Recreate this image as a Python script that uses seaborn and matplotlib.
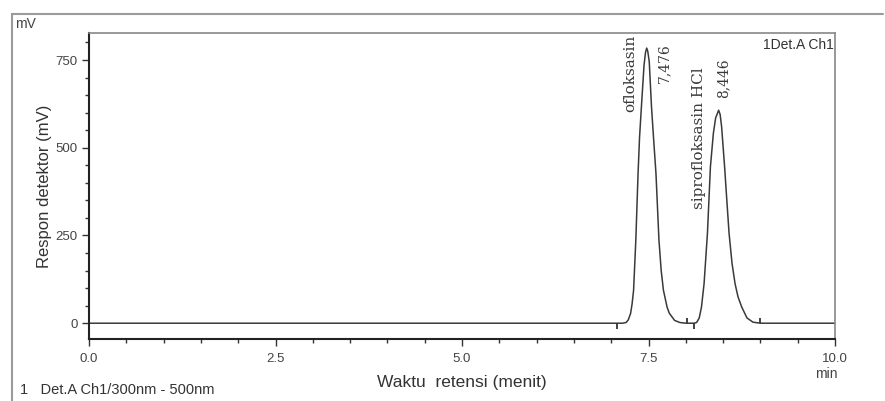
import matplotlib
matplotlib.use('Agg')
import matplotlib.pyplot as plt
import seaborn as sns
import pandas as pd
from matplotlib.ticker import MultipleLocator
from matplotlib.lines import Line2D

sns.set_theme(style='white')
plt.rcParams['font.family'] = ['Liberation Sans', 'DejaVu Sans']

# chromatogram (time in min, response in mV)
waktu = [0.0, 2.0, 4.0, 6.0, 7.00, 7.15, 7.20, 7.23, 7.26, 7.28, 7.30, 7.33, 7.36, 7.38,
         7.405, 7.44, 7.46, 7.476, 7.49, 7.51, 7.54, 7.57, 7.60, 7.64, 7.67, 7.70, 7.75,
         7.78, 7.85, 7.92, 8.00,
         8.11, 8.145, 8.18, 8.21, 8.245, 8.29, 8.33, 8.37, 8.40, 8.44, 8.46, 8.48, 8.52,
         8.55, 8.58, 8.62, 8.66, 8.70, 8.75, 8.82, 8.90, 9.00, 9.50, 10.0]
respon = [0, 0, 0, 0, 0, 0, 2, 10, 28, 55, 94, 237, 427, 530,
          617, 735, 772, 784, 775, 745, 617, 520, 427, 237, 150, 94, 45,
          28, 8, 2, 0,
          0, 2, 15, 46, 113, 256, 446, 542, 585, 607, 595, 560, 446,
          350, 256, 170, 113, 75, 46, 15, 3, 0, 0, 0]

# integration start/stop marks
event_waktu = [7.08, 8.01, 8.11, 9.00]
event_arah = [-1, 1, -1, 1]

puncak_nama = ['ofloksasin', 'siprofloksasin HCl']
puncak_rt = ['7,476', '8,446']
nama_pos = [(7.25, 821), (8.18, 730)]
rt_pos = [(7.71, 798), (8.50, 756)]

df = pd.DataFrame({'waktu': waktu, 'respon': respon})

fig = plt.figure(figsize=(8.85, 4.01), dpi=100)
ax = fig.add_axes([0.1006, 0.1546, 0.8429, 0.7631])

# outer frame of the report
fig.add_artist(Line2D([12/885, 12/885], [0, 1 - 14/401], transform=fig.transFigure,
                      color='#9a9a9a', lw=1.5))
fig.add_artist(Line2D([12/885, 883/885], [1 - 14/401, 1 - 14/401], transform=fig.transFigure,
                      color='#9a9a9a', lw=1.5))

sns.lineplot(data=df, x='waktu', y='respon', ax=ax, color='#3a3a3a', lw=1.1,
             estimator=None, sort=False, zorder=2)

for t, d in zip(event_waktu, event_arah):
    ax.vlines(t, 0, d * 16, color='#333333', lw=1.3)

for nama, (x, y) in zip(puncak_nama, nama_pos):
    ax.text(x, y, nama, rotation=90, ha='center', va='top', fontsize=11,
            family='DejaVu Serif', color='#3a3a3a')
for rt, (x, y) in zip(puncak_rt, rt_pos):
    ax.text(x, y, rt, rotation=90, ha='center', va='top', fontsize=10,
            family='DejaVu Serif', color='#3a3a3a')

ax.set_xlim(0, 10)
ax.set_ylim(-45, 827)
ax.xaxis.set_major_locator(MultipleLocator(2.5))
ax.xaxis.set_minor_locator(MultipleLocator(0.5))
ax.yaxis.set_major_locator(MultipleLocator(250))
ax.yaxis.set_minor_locator(MultipleLocator(50))
ax.xaxis.set_major_formatter(lambda v, p: f'{v:.1f}')
ax.yaxis.set_major_formatter(lambda v, p: f'{v:.0f}')
ax.tick_params(axis='both', which='major', direction='out', length=5, width=1,
               color='#333333', labelsize=9.5, labelcolor='#444444', pad=3,
               bottom=True, left=True)
ax.tick_params(axis='x', which='major', pad=5)
ax.tick_params(axis='both', which='minor', direction='out', length=3, width=1,
               color='#333333', bottom=True, left=True)

for s in ['left', 'bottom']:
    ax.spines[s].set_color('#222222')
    ax.spines[s].set_linewidth(1.5)
for s in ['top', 'right']:
    ax.spines[s].set_color('#888888')
    ax.spines[s].set_linewidth(1.2)

ax.set_xlabel('Waktu  retensi (menit)', fontsize=12.5, color='#333333', labelpad=7)
ax.set_ylabel('Respon detektor (mV)', fontsize=12, color='#333333', labelpad=3)

ax.text(0.998, 0.985, '1Det.A Ch1', transform=ax.transAxes, ha='right', va='top',
        fontsize=10, color='#333333')
fig.text(15/885, 1 - 24/401, 'mV', fontsize=10, color='#444444', va='center')
fig.text(826/885, 1 - 374/401, 'min', fontsize=10, color='#444444', ha='center', va='center')
fig.text(20/885, 1 - 390/401, '1   Det.A Ch1/300nm - 500nm', fontsize=10.5,
         color='#333333', va='center')

fig.savefig('out.png', dpi=100)
